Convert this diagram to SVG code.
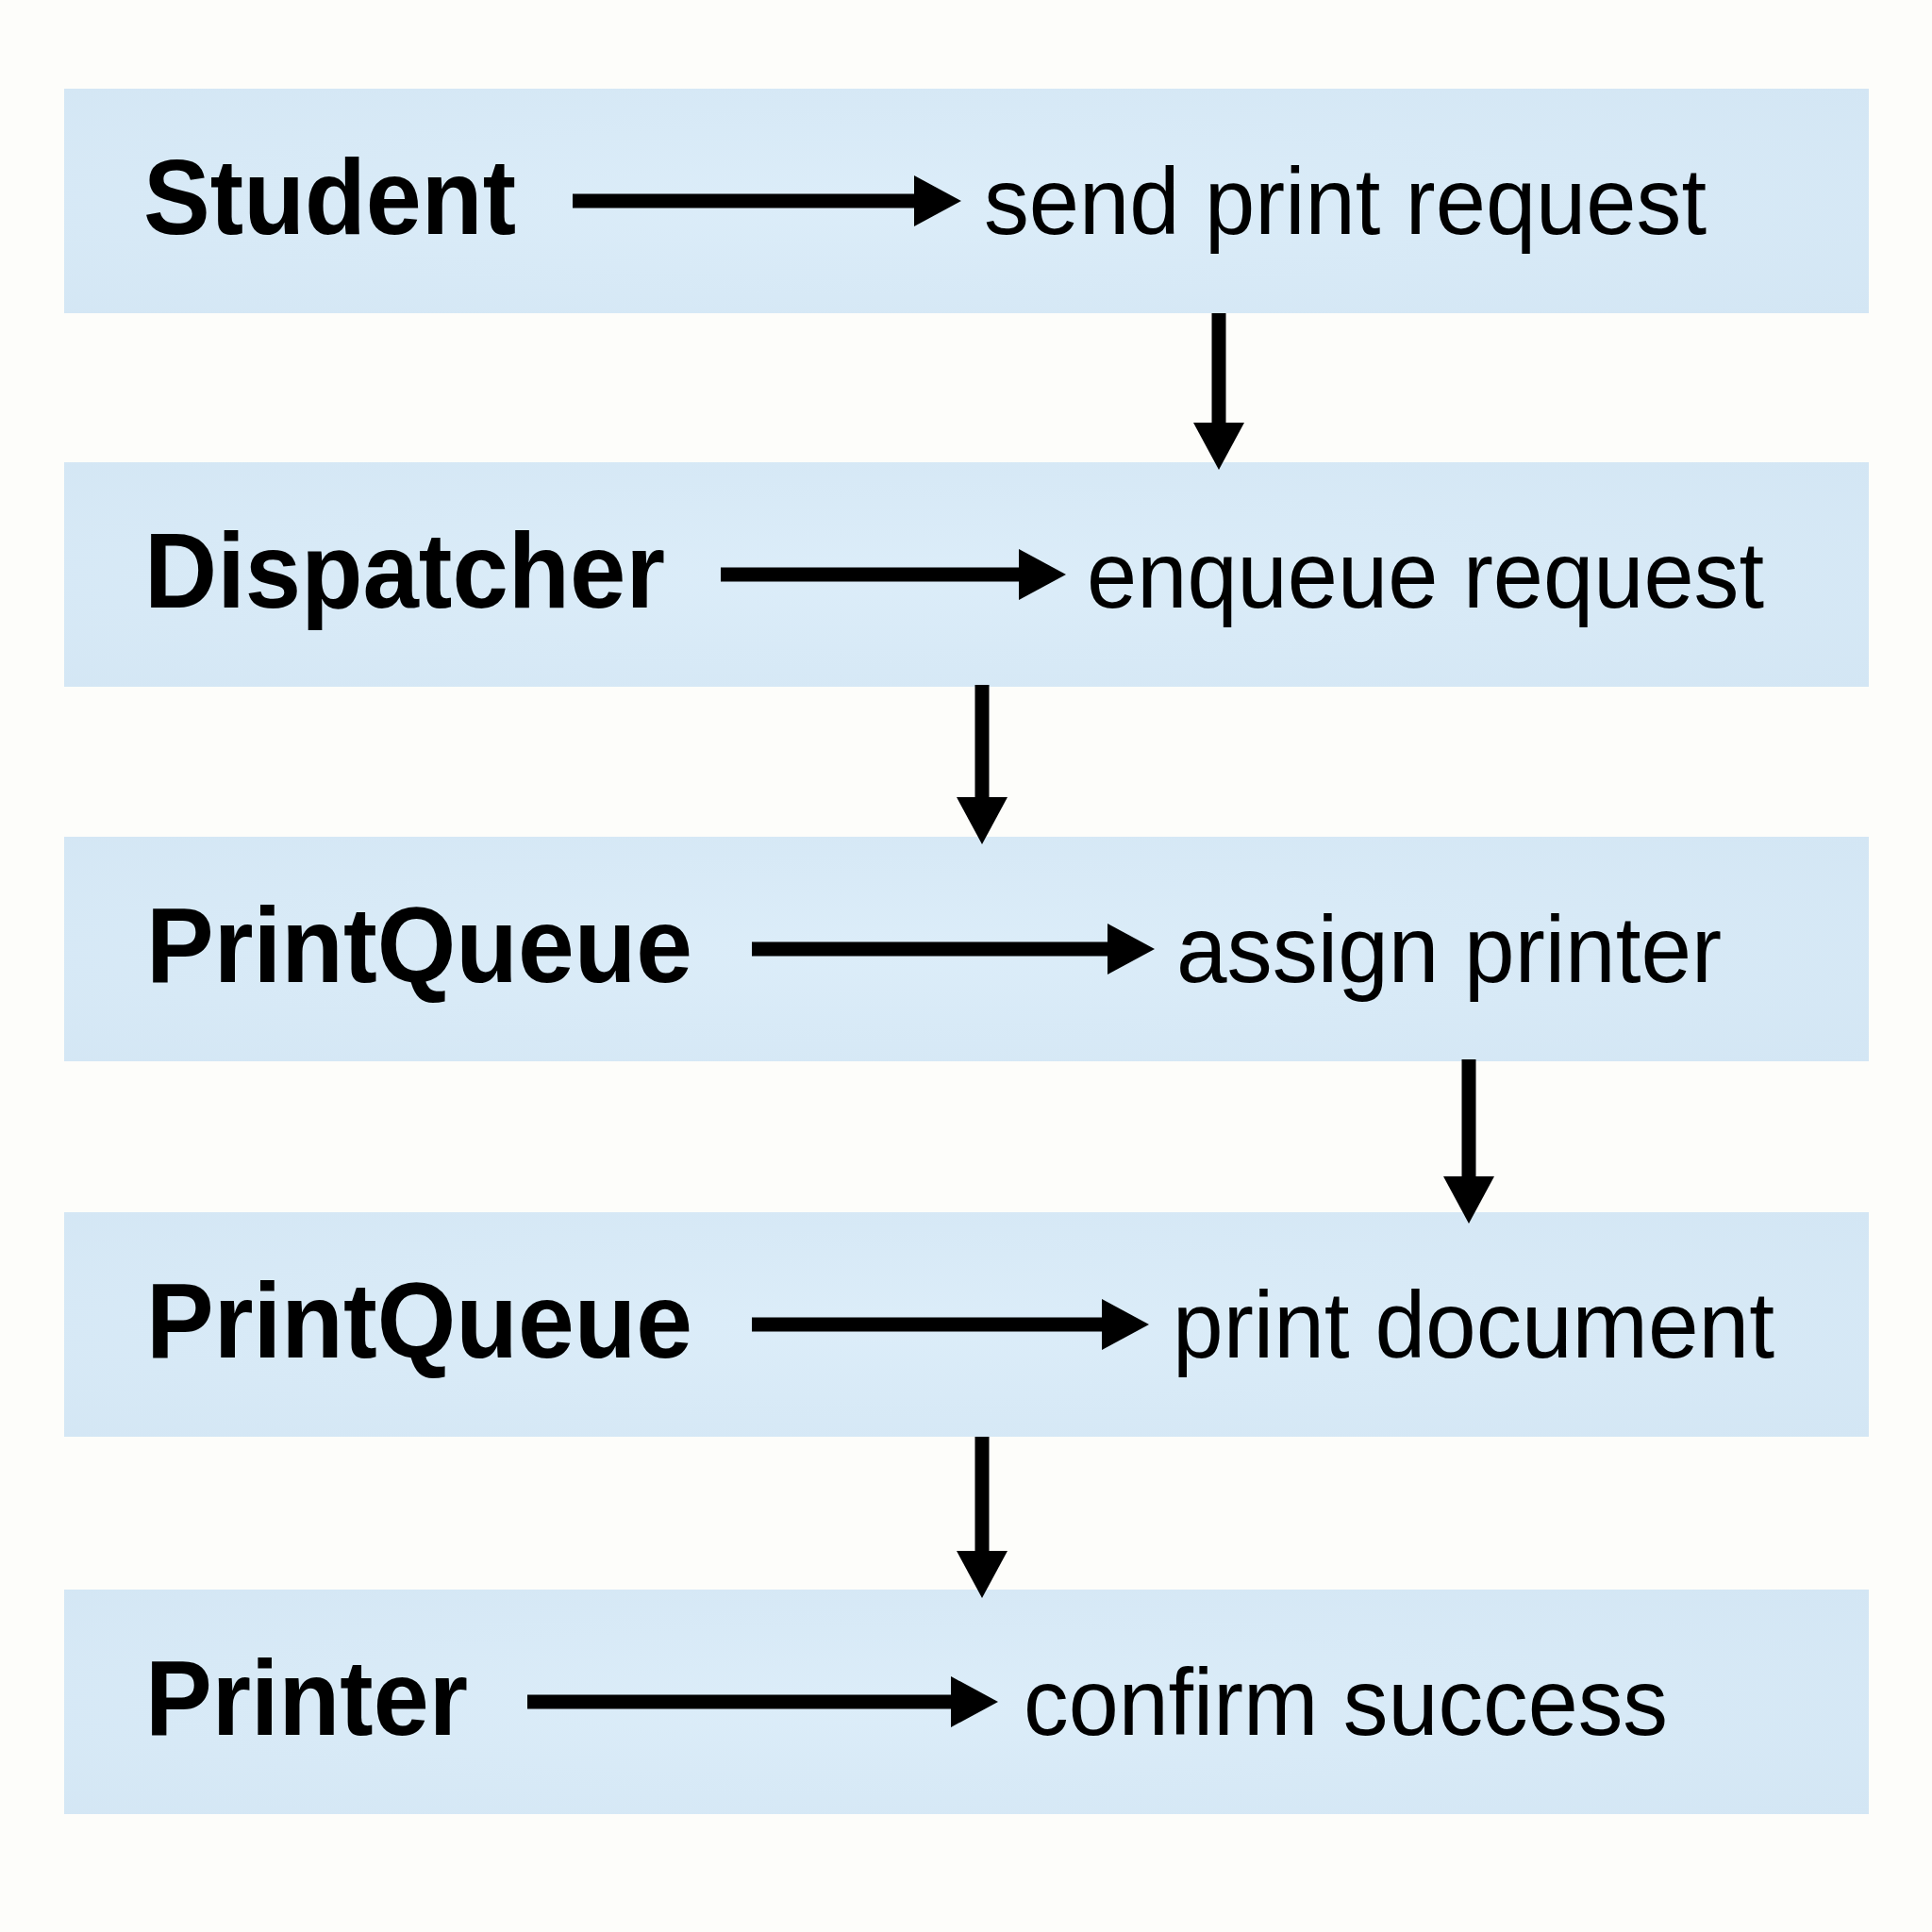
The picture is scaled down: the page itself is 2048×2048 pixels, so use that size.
<svg xmlns="http://www.w3.org/2000/svg" width="2048" height="2048" viewBox="0 0 2048 2048">
  <defs>
    <radialGradient id="bandFill" cx="0.45" cy="0.5" r="0.75">
      <stop offset="0" stop-color="#dcedf9"/>
      <stop offset="1" stop-color="#d3e6f4"/>
    </radialGradient>
    <!-- filled triangular head; line ends at its base -->
    <marker id="head" markerUnits="userSpaceOnUse" markerWidth="52" markerHeight="56" refX="2" refY="27" orient="auto">
      <path d="M0,0 L50,27 L0,54 z" fill="#000"/>
    </marker>
  </defs>
  <style>
    .band { fill: url(#bandFill); }
    .actor { font-family: "Liberation Sans", Arial, sans-serif; font-weight: bold; font-size: 114px; fill: #000; }
    .action { font-family: "Liberation Sans", Arial, sans-serif; font-size: 100px; fill: #000; }
    .flow { stroke: #000; stroke-width: 15; fill: none; marker-end: url(#head); }
  </style>

  <rect x="0" y="0" width="2048" height="2048" fill="#fdfdfa"/>

  <g id="step-student">
    <rect class="band" x="68" y="94" width="1913" height="238"/>
    <text class="actor" x="152" y="248" textLength="395" lengthAdjust="spacingAndGlyphs">Student</text>
    <text class="action" x="1043" y="248" textLength="766" lengthAdjust="spacingAndGlyphs">send print request</text>
  </g>

  <g id="step-dispatcher">
    <rect class="band" x="68" y="490" width="1913" height="238"/>
    <text class="actor" x="153" y="644" textLength="552" lengthAdjust="spacingAndGlyphs">Dispatcher</text>
    <text class="action" x="1152" y="644" textLength="718" lengthAdjust="spacingAndGlyphs">enqueue request</text>
  </g>

  <g id="step-queue-assign">
    <rect class="band" x="68" y="887" width="1913" height="238"/>
    <text class="actor" x="155" y="1041" textLength="579" lengthAdjust="spacingAndGlyphs">PrintQueue</text>
    <text class="action" x="1247" y="1041" textLength="578" lengthAdjust="spacingAndGlyphs">assign printer</text>
  </g>

  <g id="step-queue-print">
    <rect class="band" x="68" y="1285" width="1913" height="238"/>
    <text class="actor" x="155" y="1439" textLength="579" lengthAdjust="spacingAndGlyphs">PrintQueue</text>
    <text class="action" x="1243" y="1439" textLength="638" lengthAdjust="spacingAndGlyphs">print document</text>
  </g>

  <g id="step-printer">
    <rect class="band" x="68" y="1685" width="1913" height="238"/>
    <text class="actor" x="154" y="1839" textLength="342" lengthAdjust="spacingAndGlyphs">Printer</text>
    <text class="action" x="1085" y="1839" textLength="683" lengthAdjust="spacingAndGlyphs">confirm success</text>
  </g>

  <g id="connectors">
    <!-- actor to action, within each band -->
    <line class="flow" x1="607" y1="213" x2="971" y2="213"/>
    <line class="flow" x1="764" y1="609" x2="1082" y2="609"/>
    <line class="flow" x1="797" y1="1006" x2="1176" y2="1006"/>
    <line class="flow" x1="797" y1="1404" x2="1170" y2="1404"/>
    <line class="flow" x1="559" y1="1804" x2="1010" y2="1804"/>
    <!-- band to band -->
    <line class="flow" x1="1292" y1="332" x2="1292" y2="450"/>
    <line class="flow" x1="1041" y1="726" x2="1041" y2="847"/>
    <line class="flow" x1="1557" y1="1123" x2="1557" y2="1249"/>
    <line class="flow" x1="1041" y1="1523" x2="1041" y2="1646"/>
  </g>
</svg>
